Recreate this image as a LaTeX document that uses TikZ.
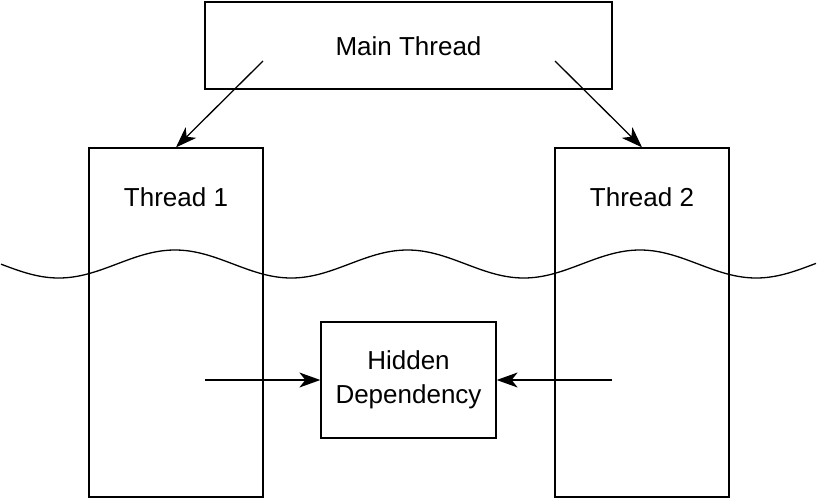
\documentclass[tikz,border=0pt]{standalone}
\usepackage{fontspec}
\setmainfont{Liberation Sans}
\usetikzlibrary{arrows.meta}

\tikzset{
  box/.style={draw, rectangle, line width=1.3pt, inner sep=0pt},
  lbl/.style={font=\fontsize{26}{34}\selectfont, align=center},
  arr/.style={line width=1.3pt, -{Stealth[length=21pt, width=15pt, inset=6pt]}}
}

\begin{document}
\begin{tikzpicture}[x=1pt, y=-1pt]
  \useasboundingbox (0,0) rectangle (817,498);
  \node[box, minimum width=407, minimum height=87] (main) at (408.5,45.5) {};
  \node[lbl] (mainname) at (408.5,46) {Main Thread};
  \node[box, minimum width=174, minimum height=349] (t1) at (176,322.5) {};
  \node[lbl] (t1name) at (176,197) {Thread 1};
  \node[box, minimum width=174, minimum height=349] (t2) at (642,322.5) {};
  \node[lbl] (t2name) at (642,197) {Thread 2};
  \node[box, minimum width=175, minimum height=116] (hidden) at (408.5,380) {};
  \node[lbl] (hiddenname) at (408.5,380) {Hidden\\Dependency};
  % loose ends of the connectors
  \coordinate (m1) at (263,61);
  \coordinate (m2) at (555,61);
  \coordinate (s1) at (205,380);
  \coordinate (s2) at (612,380);
  % Draw the connectors
  \draw[arr] (m1) -- (t1.north);
  \draw[arr] (m2) -- (t2.north);
  \draw[arr] (s1) -- (hidden.west);
  \draw[arr] (s2) -- (hidden.east);
  % the time cut across both threads
  \draw[line width=1.3pt] plot[domain=1:816, samples=160, smooth]
    (\x, {264 - 14*cos(1.5484*(\x-175))});
\end{tikzpicture}
\end{document}
